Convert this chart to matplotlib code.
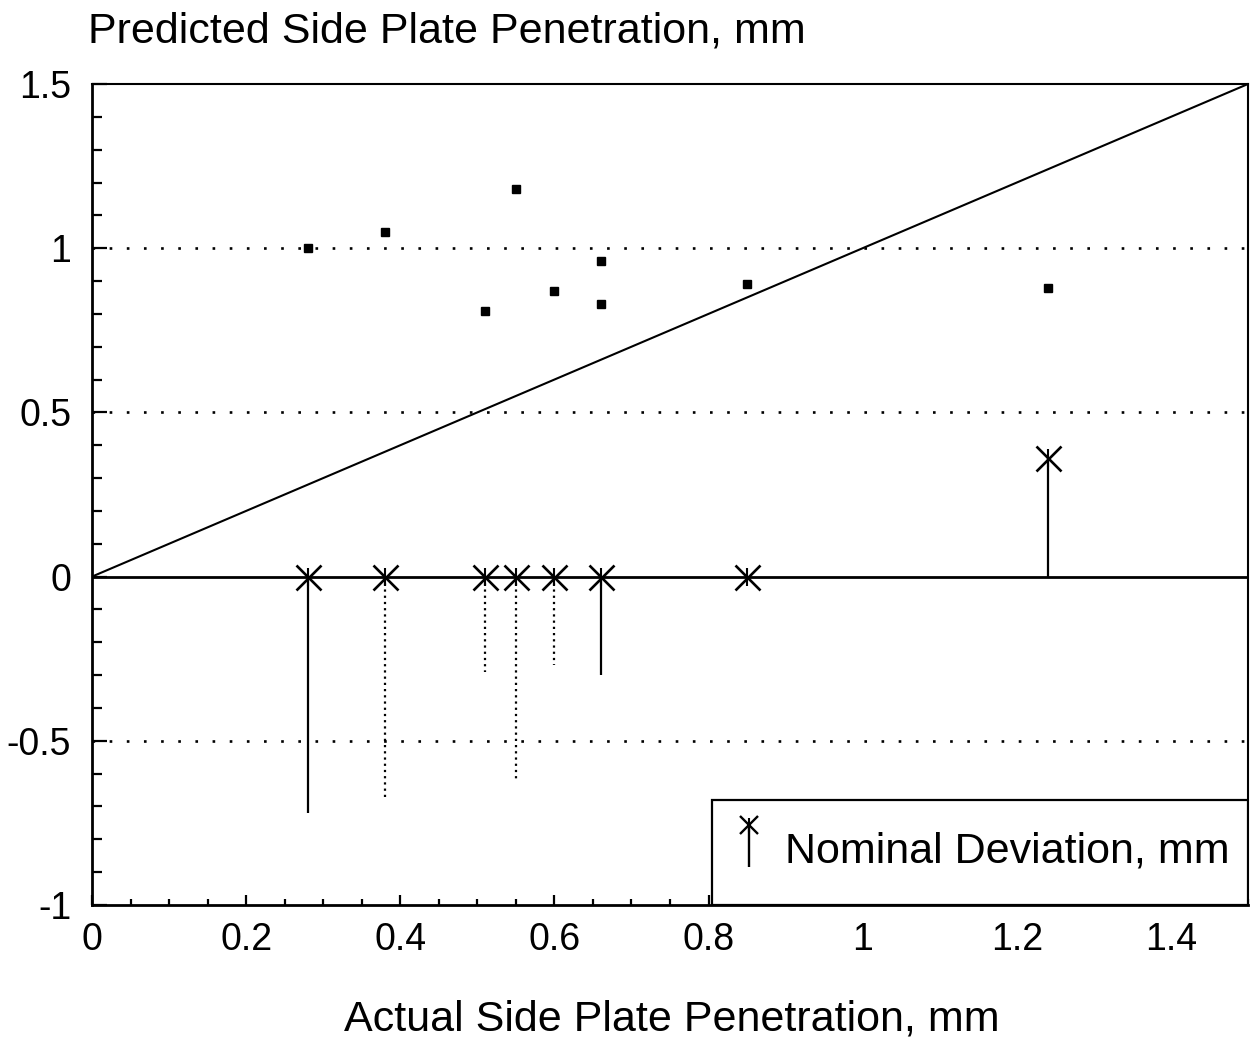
"""
Predicted vs actual side plate penetration, with nominal deviation stems.
"""

import matplotlib
matplotlib.use("Agg")
import matplotlib.pyplot as plt
from matplotlib.patches import Rectangle
from matplotlib.ticker import MultipleLocator, FuncFormatter

# ---------------------------------------------------------------------------
# Data
# ---------------------------------------------------------------------------

actual    = [0.28, 0.38, 0.51, 0.55, 0.60, 0.66, 0.66, 0.85, 1.24]
predicted = [1.00, 1.05, 0.81, 1.18, 0.87, 0.96, 0.83, 0.89, 0.88]

stem_x     = [0.28, 0.38, 0.51, 0.55, 0.60, 0.66, 0.85, 1.24]
stem_dev   = [-0.72, -0.67, -0.29, -0.62, -0.27, -0.30, 0.00, 0.36]
stem_style = ["-", ":", ":", ":", ":", "-", "-", "-"]

grid_y   = [1.0, 0.5, -0.5]
identity = [0.0, 1.5]

XLIM = (0, 1.5)
YLIM = (-1, 1.5)

W, H = 1258, 1041

# ---------------------------------------------------------------------------
# Figure
# ---------------------------------------------------------------------------

plt.rcParams["font.family"] = ["Liberation Sans", "DejaVu Sans"]
plt.rcParams["axes.unicode_minus"] = False

fig = plt.figure(figsize=(W / 100, H / 100), dpi=100)
ax = fig.add_axes([92 / W, 1 - 905 / H, (1248 - 92) / W, (905 - 84) / H])
ax.set_xlim(*XLIM)
ax.set_ylim(*YLIM)

# dotted reference lines
for y in grid_y:
    ax.axhline(y, color="black", lw=1.9, ls=(0, (1, 5.5)), zorder=1)

ax.plot(identity, identity, color="black", lw=1.5, zorder=2)
ax.axhline(0, color="black", lw=2.0, zorder=2)

# stems
for x, d, ls in zip(stem_x, stem_dev, stem_style):
    if d != 0:
        dots = (0, (1, 1.8)) if ls == ":" else "-"
        ax.vlines(x, 0, d, colors="black", lw=1.6, linestyles=[dots], zorder=3)
    top = max(d, 0)
    ax.plot(x, top, marker="x", ms=18, mew=1.9, color="black", zorder=4)
    ax.plot(x, top, marker="|", ms=13, mew=1.5, color="black", zorder=4)

# predicted points
ax.plot(actual, predicted, "s", ms=6, color="black", zorder=4)

# ticks
ax.xaxis.set_major_locator(MultipleLocator(0.2))
ax.xaxis.set_minor_locator(MultipleLocator(0.05))
ax.yaxis.set_major_locator(MultipleLocator(0.5))
ax.yaxis.set_minor_locator(MultipleLocator(0.1))
fmt = FuncFormatter(lambda v, _: f"{v:g}")
ax.xaxis.set_major_formatter(fmt)
ax.yaxis.set_major_formatter(fmt)

ax.tick_params(which="both", direction="in", top=False, right=False,
               width=1.6, labelsize=27, colors="black")
ax.tick_params(axis="x", which="major", length=7, pad=12)
ax.tick_params(axis="x", which="minor", length=4.5)
ax.tick_params(axis="y", which="major", length=11, pad=15)
ax.tick_params(axis="y", which="minor", length=7)

for side in ["left", "bottom"]:
    ax.spines[side].set_linewidth(2.0)
for side in ["top", "right"]:
    ax.spines[side].set_linewidth(1.5)

# legend box
ax.add_patch(Rectangle((0.805, -1), 0.695, 0.32, transform=ax.transData,
                       facecolor="white", edgecolor="black", lw=1.6, zorder=5))
ax.vlines(0.852, -0.884, -0.756, colors="black", lw=1.7, zorder=6)
ax.plot(0.852, -0.756, marker="x", ms=13, mew=1.7, color="black", zorder=6)
ax.plot(0.852, -0.756, marker="|", ms=10, mew=1.5, color="black", zorder=6)
ax.text(0.899, -0.872, "Nominal Deviation, mm", fontsize=31,
        va="baseline", ha="left", zorder=6)

# axis titles
fig.text(88 / W, 1 - 43 / H, "Predicted Side Plate Penetration, mm",
         fontsize=31, ha="left", va="baseline")
fig.text(672 / W, 1 - 1030 / H, "Actual Side Plate Penetration, mm",
         fontsize=31, ha="center", va="baseline")

fig.savefig("out.png", dpi=100, facecolor="white")
